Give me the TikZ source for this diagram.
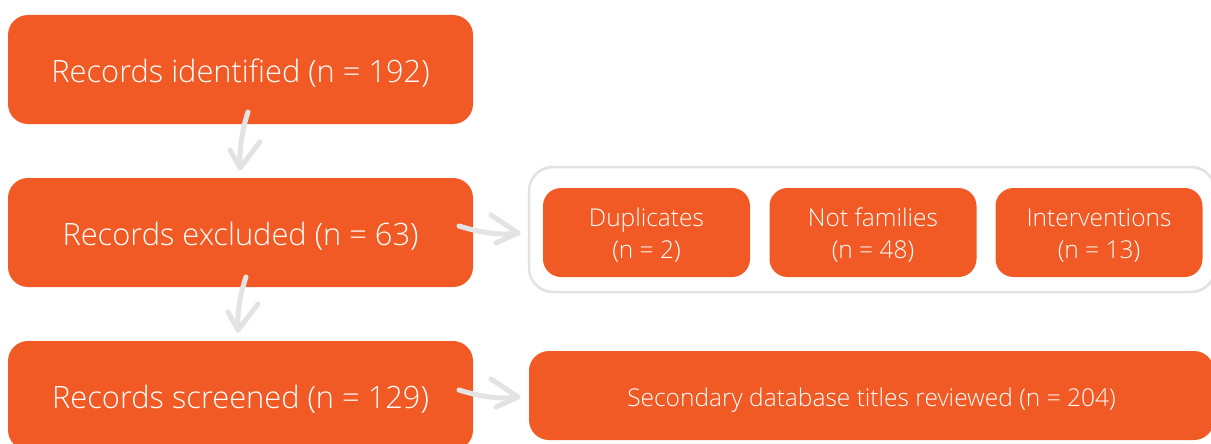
\documentclass[tikz,border=0pt]{standalone}
\usepackage{fontspec}
\IfFontExistsTF{Open Sans Light}{\setmainfont{Open Sans Light}}{\setmainfont{Open Sans}}
\usetikzlibrary{calc}
\definecolor{brand}{HTML}{F15A24}
\definecolor{arrowgray}{HTML}{E3E3E3}
\definecolor{framegray}{HTML}{E2E2E2}
\newcommand{\lowered}[2][4pt]{\raisebox{-#1}[\height][\depth]{#2}}
\newcommand{\twolines}[2]{\raisebox{-4pt}[\height][\depth]{\begin{tabular}{@{}c@{}}#1\\#2\end{tabular}}}
\begin{document}
\begin{tikzpicture}[x=1pt,y=-1pt,
 bigbox/.style={fill=brand, rounded corners=20pt, minimum width=465pt, minimum height=109pt, text=white, font=\fontsize{30.8}{36}\selectfont, inner sep=0pt},
 subbox/.style={fill=brand, rounded corners=18pt, minimum width=207pt, minimum height=89pt, text=white, align=center, font=\fontsize{24.5}{32}\selectfont, inner sep=0pt},
 frame/.style={draw=framegray, line width=2.5pt, rounded corners=24pt},
 arr/.style={draw=arrowgray, line width=5pt, line cap=round, line join=round},
]
\useasboundingbox[fill=white] (0,0) rectangle (1211,444);
\node[bigbox] (b1) at (240.5,69.5) {\lowered{Records identified (n = 192)}};
\node[bigbox] (b2) at (240.5,232.5) {\lowered{Records excluded (n = 63)}};
\node[bigbox] (b3) at (240.5,395.5) {\lowered{Records screened (n = 129)}};
\node[frame, minimum width=686pt, minimum height=125pt] (grp) at (872,229.5) {};
\node[subbox] (d1) at (646.5,232.5) {\twolines{Duplicates}{(n = 2)}};
\node[subbox] (d2) at (873,232.5) {\twolines{Not families}{(n = 48)}};
\node[subbox] (d3) at (1099,232.5) {\twolines{Interventions}{(n = 13)}};
\node[bigbox, minimum width=685pt, minimum height=89pt, rounded corners=20pt, font=\fontsize{24.5}{30}\selectfont] (sec) at (871.5,395.5) {\lowered[5pt]{Secondary database titles reviewed (n = 204)}};
% arrows
\coordinate (a1s) at (248,112);
\coordinate (a1t) at (240,168);
\coordinate (a2s) at (246,277);
\coordinate (a2t) at (238,330);
\coordinate (a3s) at (459,226);
\coordinate (a3t) at (518,233);
\coordinate (a4s) at (459,390);
\coordinate (a4t) at (518,397);
\draw[arr] (a1s) .. controls (242,130) and (239,150) .. (a1t);
\draw[arr] (230,150) -- (a1t) -- (260,142);
\draw[arr] (a2s) .. controls (240,295) and (237,312) .. (a2t);
\draw[arr] (228,312) -- (a2t) -- (258,304);
\draw[arr] (a3s) .. controls (478,232) and (500,236) .. (a3t);
\draw[arr] (491,215) -- (a3t) -- (496,243);
\draw[arr] (a4s) .. controls (478,396) and (500,400) .. (a4t);
\draw[arr] (491,379) -- (a4t) -- (496,407);
\end{tikzpicture}
\end{document}
